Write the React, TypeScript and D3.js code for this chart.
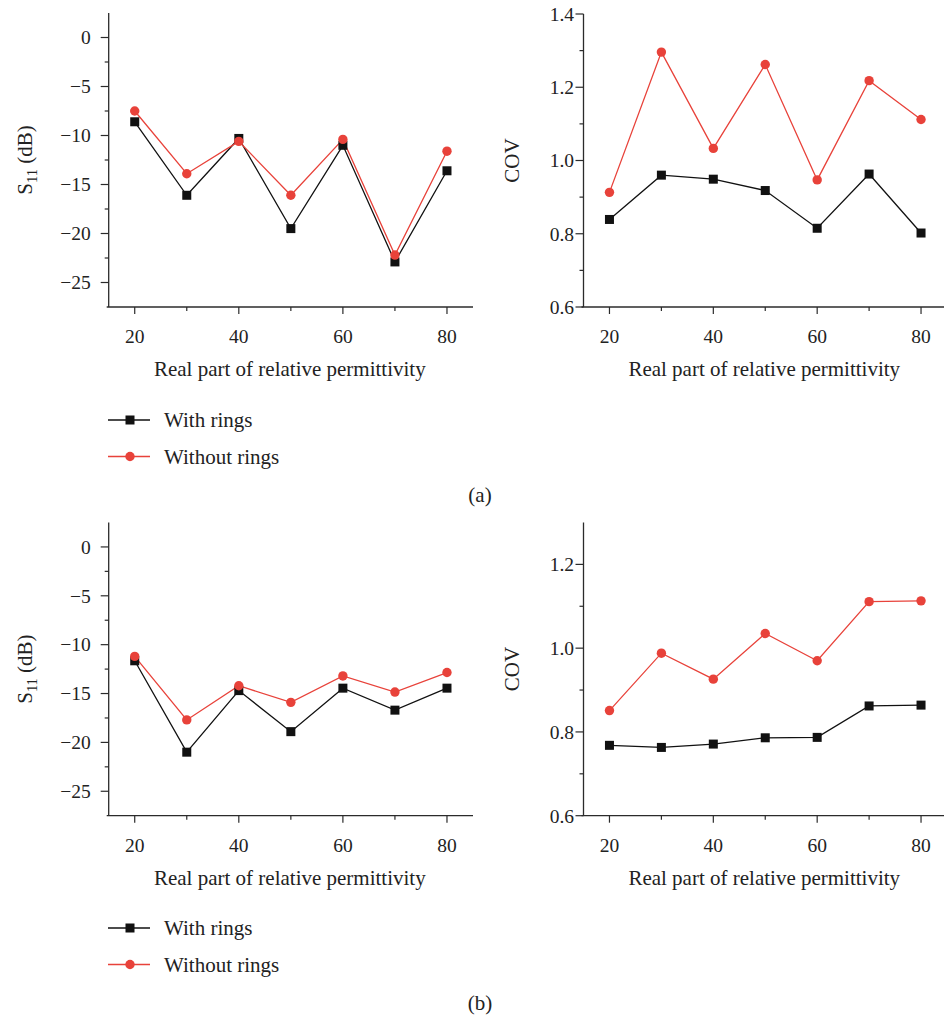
import React from "react";
import * as d3 from "d3";

// Real part of relative permittivity (x values shared by every panel)
const permittivity = [20, 30, 40, 50, 60, 70, 80];

// (a) S11 in dB
const s11WithRingsA = [-8.6, -16.1, -10.3, -19.5, -11.0, -22.9, -13.6];
const s11WithoutRingsA = [-7.5, -13.9, -10.6, -16.1, -10.4, -22.2, -11.6];
// (a) COV
const covWithRingsA = [0.839, 0.96, 0.949, 0.918, 0.815, 0.963, 0.802];
const covWithoutRingsA = [0.913, 1.296, 1.033, 1.262, 0.947, 1.218, 1.112];

// (b) S11 in dB
const s11WithRingsB = [-11.65, -21.0, -14.7, -18.9, -14.45, -16.7, -14.45];
const s11WithoutRingsB = [-11.2, -17.7, -14.2, -15.9, -13.2, -14.85, -12.85];
// (b) COV
const covWithRingsB = [0.768, 0.763, 0.771, 0.786, 0.787, 0.862, 0.864];
const covWithoutRingsB = [0.851, 0.988, 0.926, 1.035, 0.97, 1.111, 1.113];

const xTicks = [20, 40, 60, 80];
const xMinorTicks = [30, 50, 70];
const s11Ticks = [0, -5, -10, -15, -20, -25];
const s11MinorTicks = [-2.5, -7.5, -12.5, -17.5, -22.5];
const covTicksA = [0.6, 0.8, 1.0, 1.2, 1.4];
const covMinorTicksA = [0.7, 0.9, 1.1, 1.3];
const covTicksB = [0.6, 0.8, 1.0, 1.2];
const covMinorTicksB = [0.7, 0.9, 1.1];

const seriesNames = ["With rings", "Without rings"];

const BLACK = "#111";
const RED = "#e8423a";
const AXIS = "#2b2b2b";
const FONT = "'Liberation Serif', 'Times New Roman', serif";
const TICK_SIZE = 19.5;
const LABEL_SIZE = 21;

type PanelProps = {
  left: number;
  top: number;
  bottom: number;
  right: number;
  yDomain: [number, number];
  yTicks: number[];
  yMinor: number[];
  yFormat: (v: number) => string;
  labelGap: number;
  withRings: number[];
  withoutRings: number[];
  yLabel: "s11" | "cov";
  yLabelX: number;
};

function Marker({ kind, x, y }: { kind: "square" | "circle"; x: number; y: number }) {
  if (kind === "square") {
    return <rect x={x - 4.5} y={y - 4.5} width={9} height={9} fill={BLACK} />;
  }
  return <circle cx={x} cy={y} r={4.7} fill={RED} />;
}

function Panel(p: PanelProps) {
  const x = d3.scaleLinear().domain([15, 85]).range([p.left, p.right]);
  const y = d3.scaleLinear().domain(p.yDomain).range([p.bottom, p.top]);
  const line = d3
    .line<number>()
    .x((_, i) => x(permittivity[i]))
    .y((v) => y(v));

  const midY = (p.top + p.bottom) / 2;

  return (
    <g>
      {/* axes */}
      <line x1={p.left} x2={p.left} y1={p.top} y2={p.bottom} stroke={AXIS} strokeWidth={1.3} />
      <line x1={p.left - 2} x2={p.right} y1={p.bottom} y2={p.bottom} stroke={AXIS} strokeWidth={1.3} />

      {p.yTicks.map((t) => (
        <g key={"yt" + t}>
          <line x1={p.left - 8} x2={p.left} y1={y(t)} y2={y(t)} stroke={AXIS} strokeWidth={1.2} />
          <text
            x={p.left - p.labelGap}
            y={y(t)}
            dy="0.35em"
            textAnchor="end"
            fontSize={TICK_SIZE}
            fill="#222"
          >
            {p.yFormat(t)}
          </text>
        </g>
      ))}
      {p.yMinor.map((t) => (
        <line key={"ym" + t} x1={p.left - 4} x2={p.left} y1={y(t)} y2={y(t)} stroke={AXIS} strokeWidth={1.2} />
      ))}

      {xTicks.map((t) => (
        <g key={"xt" + t}>
          <line x1={x(t)} x2={x(t)} y1={p.bottom} y2={p.bottom + 7} stroke={AXIS} strokeWidth={1.2} />
          <text x={x(t)} y={p.bottom + 29} dy="0.35em" textAnchor="middle" fontSize={TICK_SIZE} fill="#222">
            {t}
          </text>
        </g>
      ))}
      {xMinorTicks.map((t) => (
        <line key={"xm" + t} x1={x(t)} x2={x(t)} y1={p.bottom} y2={p.bottom + 4} stroke={AXIS} strokeWidth={1.2} />
      ))}

      <text
        x={(x(15) + x(85)) / 2 - 1}
        y={p.bottom + 62}
        dy="0.35em"
        textAnchor="middle"
        fontSize={LABEL_SIZE}
        fill="#222"
      >
        Real part of relative permittivity
      </text>

      {p.yLabel === "s11" ? (
        <text
          transform={`translate(${p.yLabelX},${midY}) rotate(-90)`}
          textAnchor="middle"
          dy="0.35em"
          fontSize={LABEL_SIZE}
          fill="#222"
        >
          S
          <tspan fontSize={14.5} dy={5}>
            11
          </tspan>
          <tspan dy={-5}> (dB)</tspan>
        </text>
      ) : (
        <text
          transform={`translate(${p.yLabelX},${midY}) rotate(-90)`}
          textAnchor="middle"
          dy="0.35em"
          fontSize={LABEL_SIZE}
          fill="#222"
        >
          COV
        </text>
      )}

      {/* series */}
      <path d={line(p.withRings) || ""} fill="none" stroke={BLACK} strokeWidth={1.3} />
      <path d={line(p.withoutRings) || ""} fill="none" stroke={RED} strokeWidth={1.3} />
      {p.withRings.map((v, i) => (
        <Marker key={"b" + i} kind="square" x={x(permittivity[i])} y={y(v)} />
      ))}
      {p.withoutRings.map((v, i) => (
        <Marker key={"r" + i} kind="circle" x={x(permittivity[i])} y={y(v)} />
      ))}
    </g>
  );
}

function Legend({ top }: { top: number }) {
  const kinds: ("square" | "circle")[] = ["square", "circle"];
  const colors = [BLACK, RED];
  return (
    <g>
      {seriesNames.map((name, i) => {
        const cy = top + i * 36.5;
        return (
          <g key={name}>
            <line x1={108} x2={150} y1={cy} y2={cy} stroke={colors[i]} strokeWidth={1.3} />
            <Marker kind={kinds[i]} x={130} y={cy} />
            <text x={164} y={cy} dy="0.35em" fontSize={LABEL_SIZE} fill="#222">
              {name}
            </text>
          </g>
        );
      })}
    </g>
  );
}

export default function App() {
  const s11Fmt = (v: number) => (v < 0 ? "\u2212" + Math.abs(v) : String(v));
  const covFmt = (v: number) => v.toFixed(1);

  return (
    <svg
      width={944}
      height={1017}
      style={{ position: "absolute", left: 0, top: 0, background: "#fff" }}
      fontFamily={FONT}
    >
      <rect width={944} height={1017} fill="#fff" />
      {/* (a) */}
      <Panel
        left={108.7}
        right={473}
        top={13}
        bottom={307}
        yDomain={[-27.5, 2.5]}
        yTicks={s11Ticks}
        yMinor={s11MinorTicks}
        yFormat={s11Fmt}
        labelGap={18}
        withRings={s11WithRingsA}
        withoutRings={s11WithoutRingsA}
        yLabel="s11"
        yLabelX={25}
      />
      <Panel
        left={583.5}
        right={947}
        top={14}
        bottom={307}
        yDomain={[0.6, 1.4]}
        yTicks={covTicksA}
        yMinor={covMinorTicksA}
        yFormat={covFmt}
        labelGap={9.5}
        withRings={covWithRingsA}
        withoutRings={covWithoutRingsA}
        yLabel="cov"
        yLabelX={512}
      />
      <Legend top={420} />
      <text x={480} y={495} dy="0.35em" textAnchor="middle" fontSize={LABEL_SIZE} fill="#222">
        (a)
      </text>

      {/* (b) */}
      <Panel
        left={108.7}
        right={473}
        top={522.5}
        bottom={815.7}
        yDomain={[-27.5, 2.5]}
        yTicks={s11Ticks}
        yMinor={s11MinorTicks}
        yFormat={s11Fmt}
        labelGap={18}
        withRings={s11WithRingsB}
        withoutRings={s11WithoutRingsB}
        yLabel="s11"
        yLabelX={25}
      />
      <Panel
        left={583.5}
        right={947}
        top={522.5}
        bottom={815.7}
        yDomain={[0.6, 1.3]}
        yTicks={covTicksB}
        yMinor={covMinorTicksB}
        yFormat={covFmt}
        labelGap={9.5}
        withRings={covWithRingsB}
        withoutRings={covWithoutRingsB}
        yLabel="cov"
        yLabelX={512}
      />
      <Legend top={928} />
      <text x={480} y={1003} dy="0.35em" textAnchor="middle" fontSize={LABEL_SIZE} fill="#222">
        (b)
      </text>
    </svg>
  );
}
